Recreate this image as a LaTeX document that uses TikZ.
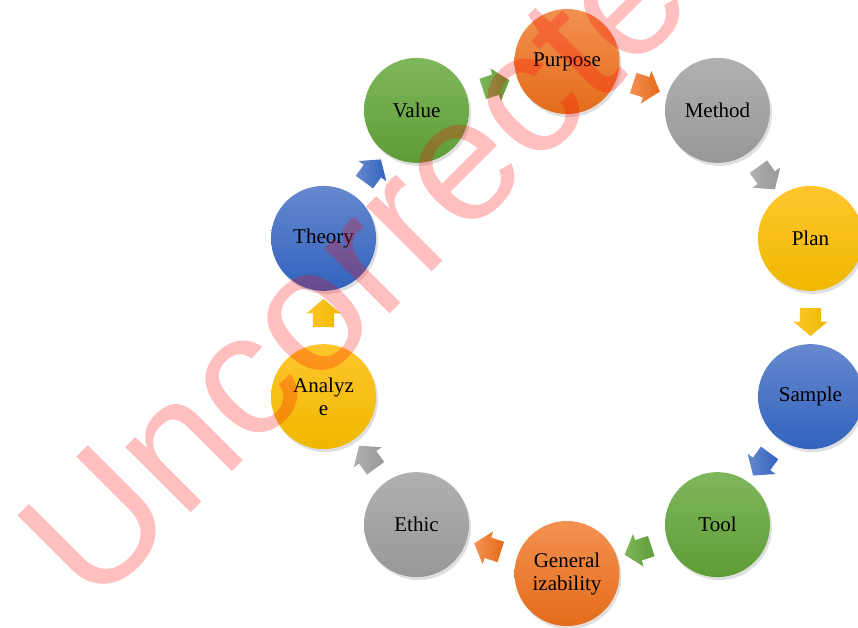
\documentclass[tikz,border=0pt]{standalone}
\usepackage{fontspec}
\setmainfont{Liberation Serif}
\newfontfamily\wmfont{Liberation Sans}
\usetikzlibrary{shapes.arrows,shadows,calc}
\definecolor{orT}{RGB}{243,145,82}
\definecolor{orB}{RGB}{228,108,26}
\definecolor{grT}{RGB}{176,176,176}
\definecolor{grB}{RGB}{152,152,152}
\definecolor{ylT}{RGB}{255,198,45}
\definecolor{ylB}{RGB}{238,184,0}
\definecolor{blT}{RGB}{102,136,206}
\definecolor{blB}{RGB}{50,99,190}
\definecolor{gnT}{RGB}{127,183,92}
\definecolor{gnB}{RGB}{94,157,54}
\begin{document}
\begin{tikzpicture}[x=1pt, y=1pt, font=\fontsize{21}{23}\selectfont,
	bub/.style={circle, minimum size=105pt, inner sep=0pt, align=center, drop shadow={shadow xshift=2pt, shadow yshift=-3pt, opacity=0.25}},
	ora/.style={bub, top color=orT, bottom color=orB},
	gry/.style={bub, top color=grT, bottom color=grB},
	yel/.style={bub, top color=ylT, bottom color=ylB},
	blu/.style={bub, top color=blT, bottom color=blB},
	grn/.style={bub, top color=gnT, bottom color=gnB},
	arr/.style={single arrow, minimum width=34pt, minimum height=28pt, single arrow head extend=6.5pt, single arrow tip angle=100, inner xsep=0pt, inner ysep=10.5pt}]
	\useasboundingbox (-567,-309.5) rectangle (291,317.5);
	% circles
	\node[ora] (pur) at (90:256pt) {Purpose};
	\node[gry] (met) at (54:256pt) {Method};
	\node[yel] (pla) at (18:256pt) {Plan};
	\node[blu] (sam) at (-18:256pt) {Sample};
	\node[grn] (too) at (-54:256pt) {Tool};
	\node[ora] (gen) at (-90:256pt) {General\\izability};
	\node[gry] (eth) at (-126:256pt) {Ethic};
	\node[yel] (ana) at (-162:256pt) {Analyz\\e};
	\node[blu] (the) at (162:256pt) {Theory};
	\node[grn] (val) at (126:256pt) {Value};
	% arrows
	\node[arr, left color=gnT, right color=gnB, rotate=18] at ($(val)!0.5!(pur)$) {};
	\node[arr, left color=orT, right color=orB, rotate=-18] at ($(pur)!0.5!(met)$) {};
	\node[arr, left color=grT, right color=grB, rotate=-54] at ($(met)!0.5!(pla)$) {};
	\node[arr, left color=ylT, right color=ylB, rotate=-90] at ($(pla)!0.5!(sam)$) {};
	\node[arr, left color=blT, right color=blB, rotate=-126] at ($(sam)!0.5!(too)$) {};
	\node[arr, left color=gnT, right color=gnB, rotate=-162] at ($(too)!0.5!(gen)$) {};
	\node[arr, left color=orT, right color=orB, rotate=162] at ($(gen)!0.5!(eth)$) {};
	\node[arr, left color=grT, right color=grB, rotate=126] at ($(eth)!0.5!(ana)$) {};
	\node[arr, left color=ylT, right color=ylB, rotate=90] at ($(ana)!0.5!(the)$) {};
	\node[arr, left color=blT, right color=blB, rotate=54] at ($(the)!0.5!(val)$) {};
	% watermark
	\node[anchor=base west, inner sep=0pt, rotate=45, text=red, text opacity=0.25, font=\wmfont\fontsize{175}{175}\selectfont] (wm) at (-474,-293.5) {Uncorrected};
\end{tikzpicture}
\end{document}
